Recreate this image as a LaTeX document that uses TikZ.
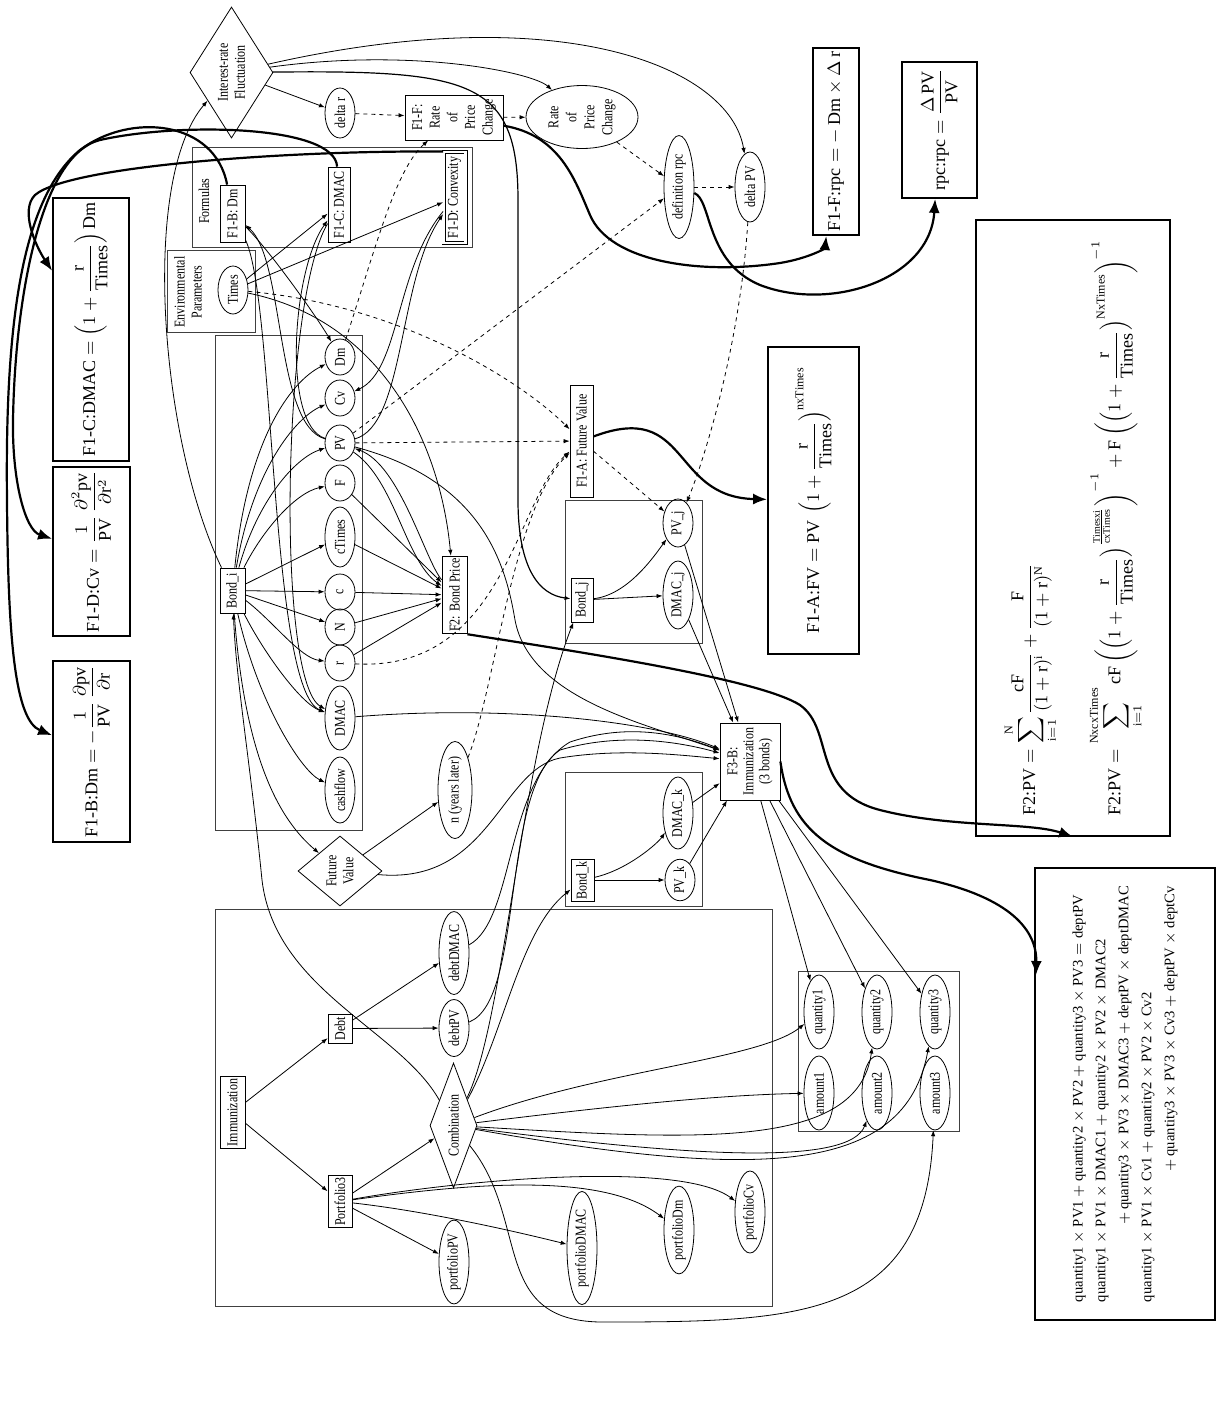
\documentclass[tikz,border=0pt]{standalone}
\usepackage{amsmath}
\usepackage{fontspec}
\setmainfont{Liberation Serif}
\newfontfamily\nodefont{Liberation Serif}[FakeStretch=0.8]
\usetikzlibrary{shapes.geometric, arrows.meta}

\begin{document}
\begin{tikzpicture}[x=0.5pt, y=-0.5pt,
    varBox/.style={draw, line width=0.4pt, rectangle, rotate=90, inner sep=1pt, align=center, font=\nodefont\fontsize{7.5}{8.5}\selectfont},
    varOval/.style={draw, line width=0.4pt, ellipse, rotate=90, inner sep=0.5pt, minimum height=15pt, align=center, font=\nodefont\fontsize{7.5}{8.5}\selectfont},
    decision/.style={draw, line width=0.4pt, diamond, rotate=90, inner sep=0pt, align=center, font=\nodefont\fontsize{7.5}{8.5}\selectfont},
    formulaBox/.style={draw, line width=0.9pt, rectangle, rotate=90, inner sep=2pt, align=center, font=\fontsize{9}{11}\selectfont},
    groupFrame/.style={draw=black!75, line width=0.5pt},
    groupLabel/.style={rotate=90, align=center, font=\nodefont\fontsize{7.5}{8.5}\selectfont},
    edgeThin/.style={line width=0.4pt, -{Latex[length=3pt, width=2.2pt]}},
    edgeDash/.style={edgeThin, dash pattern=on 2pt off 2pt},
    edgeThick/.style={line width=1.1pt, -{Latex[length=7pt, width=5.5pt]}},
]
\useasboundingbox (0,0) rectangle (1222,1404);

\draw[groupFrame] (192,147) rectangle (472,247);
\draw[groupFrame] (167,250) rectangle (255,332);
\draw[groupFrame] (215,335) rectangle (362,830);
\draw[groupFrame] (565,500) rectangle (702,643);
\draw[groupFrame] (565,772) rectangle (702,906);
\draw[groupFrame] (215,909) rectangle (772,1306);
\draw[groupFrame] (798,971) rectangle (959,1131);
\node[groupLabel] at (204,201) {Formulas};
\node[groupLabel] at (188,292) {Environmental\\Parameters};

\node[decision, minimum width=65.5pt, minimum height=41.5pt, shape aspect=1.58] (irf) at (231.5,72.5) {Interest-rate\\Fluctuation};
\node[varOval, minimum width=25pt] (deltar) at (340,113) {delta r};
\node[varBox, minimum width=22.5pt, minimum height=49pt, font=\nodefont\fontsize{7.5}{8.8}\selectfont] (f1f) at (454,117.5) {F1-F:\\Rate\\of\\Price\\Change};
\node[varOval, minimum width=31.5pt, minimum height=56pt, font=\nodefont\fontsize{7.5}{9}\selectfont] (rpcell) at (582,117) {Rate\\of\\Price\\Change};
\node[varOval, minimum width=51.5pt] (defrpc) at (679,187) {definition rpc};
\node[varOval, minimum width=35pt] (deltapv) at (750,187) {delta PV};

\node[varBox, minimum width=28.5pt, minimum height=12.5pt] (f1b) at (232.5,213.5) {F1-B: Dm};
\node[varBox, minimum width=37.5pt, minimum height=11pt] (f1c) at (339,204.5) {F1-C: DMAC};
\node[varBox, double, double distance=1.2pt, minimum width=45.5pt, minimum height=11pt] (f1d) at (454.5,197.5) {F1-D: Convexity};
\node[varOval, minimum width=24pt] (times) at (233,290) {Times};

\node[varOval, minimum width=18pt] (dm) at (340,357) {Dm};
\node[varOval, minimum width=18pt] (cv) at (340,398) {Cv};
\node[varOval, minimum width=18pt] (pv) at (340,443) {PV};
\node[varOval, minimum width=18pt] (f) at (340,483) {F};
\node[varOval, minimum width=30pt] (ctimes) at (340,537) {cTimes};
\node[varOval, minimum width=18pt] (c) at (340,592) {c};
\node[varOval, minimum width=18pt] (n) at (340,627) {N};
\node[varOval, minimum width=18pt] (r) at (340,663) {r};
\node[varOval, minimum width=32pt] (dmac) at (340,718) {DMAC};
\node[varOval, minimum width=33pt] (cashflow) at (340,790) {cashflow};
\node[varBox, minimum width=22.5pt, minimum height=12.5pt] (bondi) at (232.5,590.5) {Bond\_i};

\node[decision, minimum width=35pt, minimum height=42pt, shape aspect=0.83] (fv) at (340,871) {Future\\Value};
\node[varOval, minimum width=45pt, minimum height=17pt] (nyears) at (455,790) {n (years later)};
\node[varBox, minimum width=37pt, minimum height=12.5pt] (f2) at (454.5,595) {F2: Bond Price};
\node[varBox, minimum width=56pt, minimum height=11.5pt] (f1a) at (581.5,441) {F1-A: Future Value};

\node[varBox, minimum width=22pt, minimum height=11pt] (bondj) at (582,600) {Bond\_j};
\node[varOval, minimum width=24pt] (pvj) at (678,523) {PV\_j};
\node[varOval, minimum width=34pt] (dmacj) at (678,595) {DMAC\_j};
\node[varBox, minimum width=38.5pt, minimum height=30pt, font=\nodefont\fontsize{7.5}{8}\selectfont] (f3b) at (750,761.5) {F3-B:\\Immunization\\(3 bonds)};
\node[varBox, minimum width=20pt, minimum height=11.5pt] (bondk) at (582.5,880) {Bond\_k};
\node[varOval, minimum width=36pt] (dmack) at (678,813) {DMAC\_k};
\node[varOval, minimum width=20pt] (pvk) at (680,880) {PV\_k};

\node[varBox, minimum width=32.5pt, minimum height=12.5pt] (immu) at (232.5,1112.5) {Immunization};
\node[varBox, minimum width=14.5pt, minimum height=12pt] (debt) at (340,1028.5) {Debt};
\node[varBox, minimum width=24.5pt, minimum height=12pt] (port) at (340,1201.5) {Portfolio3};
\node[varOval, minimum width=28.5pt] (debtpv) at (454,1028) {debtPV};
\node[varOval, minimum width=40pt] (debtdmac) at (454,953) {debtDMAC};
\node[decision, minimum width=62.5pt, minimum height=23.5pt, shape aspect=2.66] (comb) at (453.5,1125.5) {Combination};
\node[varOval, minimum width=40pt] (portpv) at (454,1262) {portfolioPV};
\node[varOval, minimum width=53pt] (portdmac) at (582,1248) {portfolioDMAC};
\node[varOval, minimum width=43pt] (portdm) at (679,1230) {portfolioDm};
\node[varOval, minimum width=40pt] (portcv) at (750,1212) {portfolioCv};
\node[varOval, minimum width=37pt] (q1) at (819,1012) {quantity1};
\node[varOval, minimum width=37pt] (a1) at (819,1093) {amount1};
\node[varOval, minimum width=37pt] (q2) at (877,1012) {quantity2};
\node[varOval, minimum width=37pt] (a2) at (877,1093) {amount2};
\node[varOval, minimum width=37pt] (q3) at (935,1012) {quantity3};
\node[varOval, minimum width=37pt] (a3) at (935,1093) {amount3};

\node[formulaBox, minimum width=86.5pt, minimum height=38.5pt] (fmdm) at (91.5,751.5) {F1-B:Dm${}=-\dfrac{1}{\mathrm{PV}}\,\dfrac{\partial\mathrm{pv}}{\partial\mathrm{r}}$};
\node[formulaBox, minimum width=80.5pt, minimum height=38.5pt] (fmcv) at (91.5,551.5) {F1-D:Cv${}=\dfrac{1}{\mathrm{PV}}\,\dfrac{\partial^{2}\mathrm{pv}}{\partial\mathrm{r}^{2}}$};
\node[formulaBox, minimum width=119.5pt, minimum height=38pt] (fmdmac) at (91,329.5) {F1-C:DMAC${}=\left(1+\dfrac{\mathrm{r}}{\mathrm{Times}}\right)\mathrm{Dm}$};
\node[formulaBox, minimum width=91.5pt, minimum height=23pt] (fmrpc) at (836,141.5) {F1-F:rpc${}=-\,\mathrm{Dm}\times\Delta\,\mathrm{r}$};
\node[formulaBox, minimum width=68pt, minimum height=37.5pt] (fmrpc2) at (939.5,130) {rpc:rpc${}=\dfrac{\Delta\,\mathrm{PV}}{\mathrm{PV}}$};
\node[formulaBox, minimum width=153.5pt, minimum height=45.5pt] (fmfv) at (813.5,500.5) {F1-A:FV${}=\mathrm{PV}\,\left(1+\dfrac{\mathrm{r}}{\mathrm{Times}}\right)^{\mathrm{nxTimes}}$};
\node[formulaBox, minimum width=308pt, minimum height=97pt, align=left] (fmpv) at (1073,528) {F2:PV${}=\displaystyle\sum_{\mathrm{i}=1}^{\mathrm{N}}\frac{\mathrm{cF}}{(1+\mathrm{r})^{\mathrm{i}}}+\frac{\mathrm{F}}{(1+\mathrm{r})^{\mathrm{N}}}$\\[14pt]
    F2:PV${}=\displaystyle\sum_{\mathrm{i}=1}^{\mathrm{NxcxTimes}}\mathrm{cF}\left(\left(1+\frac{\mathrm{r}}{\mathrm{Times}}\right)^{\frac{\mathrm{Timesxi}}{\mathrm{cxTimes}}}\right)^{-1}+\mathrm{F}\left(\left(1+\frac{\mathrm{r}}{\mathrm{Times}}\right)^{\mathrm{NxTimes}}\right)^{-1}$};
\node[formulaBox, minimum width=226pt, minimum height=90pt, text width=208pt, align=left, font=\fontsize{7.3}{11.5}\selectfont] (fmimm) at (1125,1094) {%
    $\mathrm{quantity1\times PV1+quantity2\times PV2+quantity3\times PV3=deptPV}$\\
    $\mathrm{quantity1\times PV1\times DMAC1+quantity2\times PV2\times DMAC2}$\\
    \hspace*{\fill}$\mathrm{{+}\,quantity3\times PV3\times DMAC3+deptPV\times deptDMAC}$\\
    $\mathrm{quantity1\times PV1\times Cv1+quantity2\times PV2\times Cv2}$\\
    \hspace*{\fill}$\mathrm{{+}\,quantity3\times PV3\times Cv3+deptPV\times deptCv}$};
\coordinate (immtip) at (1036,975);

\draw[edgeThin] (irf) -- (deltar);
\draw[edgeThin] (irf) .. controls +(180,-25) and +(-50,-45) .. (rpcell);
\draw[edgeThin] (irf) .. controls +(330,-75) and +(-20,-120) .. (deltapv);
\draw[edgeThin, line width=0.6pt] (irf) .. controls (470,70) and (518,80) .. (518,200) -- (518,500) .. controls (518,570) and (540,595) .. (bondj);
\draw[edgeThin] (bondi) .. controls (160,440) and (140,180) .. (irf);
\draw[edgeThin] (bondi) .. controls +(15,-150) and +(-50,25) .. (dm);
\draw[edgeThin] (bondi) .. controls +(20,-120) and +(-45,20) .. (cv);
\draw[edgeThin] (bondi) .. controls +(25,-90) and +(-45,15) .. (pv);
\draw[edgeThin] (bondi) .. controls +(30,-60) and +(-45,10) .. (f);
\draw[edgeThin] (bondi) -- (ctimes);
\draw[edgeThin] (bondi) -- (c);
\draw[edgeThin] (bondi) -- (n);
\draw[edgeThin] (bondi) .. controls +(40,30) and +(-40,-5) .. (r);
\draw[edgeThin] (bondi) .. controls +(30,60) and +(-40,-15) .. (dmac);
\draw[edgeThin] (bondi) .. controls +(25,110) and +(-40,-20) .. (cashflow);
\draw[edgeThin] (bondi) .. controls (245,760) and (280,820) .. (fv);
\draw[edgeThin] (comb) .. controls (400,1030) and (275,990) .. (262,880) .. controls (250,760) and (236,680) .. (bondi);
\draw[edgeThin] (f1b) .. controls +(40,40) and +(-20,-35) .. (dm);
\draw[edgeThin] (pv) .. controls (275,425) and (285,260) .. (f1b);
\draw[edgeThin] (pv) .. controls (282,425) and (292,270) .. (f1c);
\draw[edgeThin] (f1c) .. controls (282,300) and (276,680) .. (dmac);
\draw[edgeThin] (f1b) .. controls (275,300) and (270,690) .. (dmac);
\draw[edgeThin] (times) -- (f1c);
\draw[edgeThin] (times) -- (f1d);
\draw[edgeThin] (f1d) .. controls (395,270) and (400,370) .. (cv);
\draw[edgeThin] (pv) .. controls (405,425) and (398,280) .. (f1d);
\draw[edgeThin] (times) .. controls (380,320) and (440,440) .. (f2);
\draw[edgeThin] (f2) .. controls (425,560) and (400,465) .. (pv);
\draw[edgeThin] (pv) .. controls (395,480) and (405,560) .. (f2);
\foreach \v in {f, ctimes, c, n, r}
    \draw[edgeThin] (\v) -- (f2);
\draw[edgeThin] (pv) .. controls (480,480) and (505,560) .. (515,620) .. controls (530,700) and (650,725) .. (f3b);
\draw[edgeThin] (dmac) .. controls (500,705) and (650,720) .. (f3b);
\draw[edgeThin] (bondj) .. controls +(45,-5) and +(-25,35) .. (pvj);
\draw[edgeThin] (bondj) -- (dmacj);
\draw[edgeThin] (pvj) -- (f3b);
\draw[edgeThin] (dmacj) -- (f3b);
\draw[edgeThin] (comb) .. controls (505,1020) and (520,760) .. (bondj);
\draw[edgeThin] (comb) .. controls (505,1030) and (520,930) .. (bondk);
\draw[edgeThin] (bondk) -- (pvk);
\draw[edgeThin] (bondk) .. controls +(45,-10) and +(-20,30) .. (dmack);
\draw[edgeThin] (pvk) -- (f3b);
\draw[edgeThin] (dmack) -- (f3b);
\draw[edgeThin] (fv) -- (nyears);
\draw[edgeThin] (fv) .. controls (490,885) and (500,770) .. (560,758) .. controls (620,748) and (680,755) .. (f3b);
\draw[edgeThin] (debtpv) .. controls (525,1000) and (500,790) .. (560,750) .. controls (620,732) and (680,742) .. (f3b);
\draw[edgeThin] (debtdmac) .. controls (515,920) and (505,780) .. (570,742) .. controls (630,722) and (680,735) .. (f3b);
\draw[edgeThin] (immu) -- (debt);
\draw[edgeThin] (immu) -- (port);
\draw[edgeThin] (debt) -- (debtpv);
\draw[edgeThin] (debt) -- (debtdmac);
\draw[edgeThin] (port) -- (comb);
\draw[edgeThin] (port) -- (portpv);
\draw[edgeThin] (port) .. controls +(90,10) and +(-60,-15) .. (portdmac);
\draw[edgeThin] (port) .. controls (460,1185) and (600,1170) .. (portdm);
\draw[edgeThin] (port) .. controls (460,1180) and (680,1160) .. (portcv);
\draw[edgeThin] (comb) .. controls (600,1070) and (760,1060) .. (q1);
\draw[edgeThin] (comb) .. controls (620,1105) and (720,1095) .. (a1);
\draw[edgeThin] (comb) .. controls (700,1140) and (858,1150) .. (q2);
\draw[edgeThin] (comb) .. controls (700,1158) and (850,1165) .. (a2);
\draw[edgeThin] (comb) .. controls (760,1180) and (905,1175) .. (q3);
\draw[edgeThin] (comb) .. controls (530,1220) and (490,1320) .. (600,1322) .. controls (800,1322) and (925,1320) .. (a3);
\draw[edgeThin] (f3b) -- (q1);
\draw[edgeThin] (f3b) -- (q2);
\draw[edgeThin] (f3b) -- (q3);

\draw[edgeDash] (deltar) -- (f1f);
\draw[edgeDash] (f1f) -- (rpcell);
\draw[edgeDash] (rpcell) -- (defrpc);
\draw[edgeDash] (defrpc) -- (deltapv);
\draw[edgeDash] (deltapv) .. controls +(-10,160) and +(25,-60) .. (pvj);
\draw[edgeDash] (dm) .. controls (375,250) and (395,170) .. (f1f);
\draw[edgeDash] (pv) -- (defrpc);
\draw[edgeDash] (pv) -- (f1a);
\draw[edgeDash] (times) .. controls (400,305) and (520,380) .. (f1a);
\draw[edgeDash] (r) .. controls (505,672) and (515,500) .. (f1a);
\draw[edgeDash] (nyears) .. controls (495,690) and (512,510) .. (f1a);
\draw[edgeDash] (f1a) -- (pvj);

\draw[edgeThick] (f1b) .. controls (215,120) and (130,112) .. (80,150) .. controls (20,200) and (5,330) .. (7,500) .. controls (8,640) and (15,720) .. (fmdm);
\draw[edgeThick] (f1c) .. controls (335,125) and (180,122) .. (100,140) .. controls (40,155) and (15,300) .. (13,420) .. controls (12,480) and (25,530) .. (fmcv);
\draw[edgeThick] (f1d.north east) .. controls (300,150) and (70,165) .. (35,195) .. controls (20,210) and (35,245) .. (fmdmac);
\draw[edgeThick] (f1f) .. controls (560,135) and (575,180) .. (590,215) .. controls (610,262) and (700,275) .. (780,263) .. controls (810,258) and (825,248) .. (fmrpc);
\draw[edgeThick] (defrpc) .. controls (712,200) and (705,262) .. (760,285) .. controls (830,312) and (930,280) .. (fmrpc2);
\draw[edgeThick] (f1a) .. controls (690,400) and (670,497) .. (fmfv);
\draw[edgeThick] (f2.south west) .. controls (600,655) and (760,680) .. (800,705) .. controls (835,730) and (810,792) .. (880,810) .. controls (950,828) and (1030,822) .. (fmpv.west);
\draw[edgeThick] (f3b.south) .. controls (790,830) and (830,860) .. (930,880) .. controls (1010,898) and (1037,930) .. (immtip);
\end{tikzpicture}
\end{document}
